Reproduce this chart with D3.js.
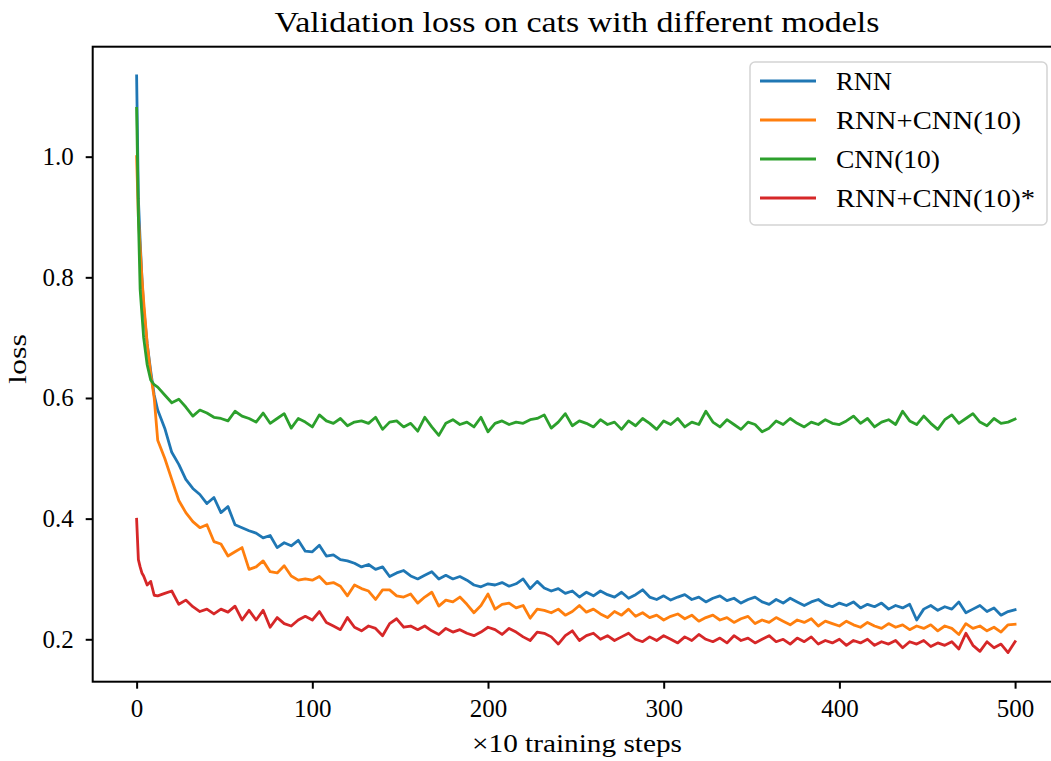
<!DOCTYPE html>
<html>
<head>
<meta charset="utf-8">
<script src="https://cdn.jsdelivr.net/npm/d3@7"></script>
<style>
  body { margin: 0; background: #fff; }
  svg text { font-family: "Liberation Serif", "DejaVu Serif", serif; fill: #000; }
</style>
</head>
<body>
<div id="chart"></div>
<script>
// training steps (x10) at which the loss was sampled
const steps = [0, 1, 2, 3, 4, 6, 8, 10].concat(d3.range(12, 501, 4));

const rnn = [
  1.134, 0.93, 0.86, 0.80, 0.75, 0.69, 0.645, 0.605,
  0.58, 0.55, 0.51, 0.49, 0.465, 0.45, 0.44, 0.425, 0.435, 0.41, 0.42, 0.39,
  0.385, 0.38, 0.376, 0.368, 0.372, 0.352, 0.36, 0.355, 0.364, 0.346,
  0.345, 0.356, 0.338, 0.34, 0.332, 0.33, 0.326, 0.32, 0.324, 0.316,
  0.32, 0.304, 0.31, 0.314, 0.305, 0.30, 0.306, 0.312, 0.30, 0.306,
  0.30, 0.304, 0.298, 0.29, 0.287, 0.292, 0.29, 0.294, 0.288, 0.292,
  0.30, 0.284, 0.296, 0.285, 0.28, 0.284, 0.276, 0.28, 0.27, 0.278,
  0.272, 0.28, 0.274, 0.27, 0.278, 0.268, 0.274, 0.282, 0.27, 0.266,
  0.272, 0.265, 0.27, 0.274, 0.266, 0.27, 0.262, 0.268, 0.272, 0.264,
  0.268, 0.26, 0.266, 0.27, 0.262, 0.258, 0.266, 0.26, 0.268, 0.262,
  0.256, 0.262, 0.266, 0.258, 0.254, 0.26, 0.256, 0.262, 0.252, 0.258,
  0.254, 0.26, 0.25, 0.256, 0.252, 0.258, 0.232, 0.25, 0.256, 0.248,
  0.254, 0.25, 0.262, 0.244, 0.25, 0.256, 0.246, 0.252, 0.24, 0.246,
  0.249
];

const rnnCnn = [
  1.0, 0.9, 0.85, 0.80, 0.76, 0.69, 0.64, 0.60,
  0.53, 0.50, 0.465, 0.43, 0.41, 0.395, 0.385, 0.39, 0.362, 0.358, 0.338, 0.345,
  0.352, 0.316, 0.32, 0.33, 0.312, 0.31, 0.322, 0.305, 0.298, 0.30,
  0.298, 0.304, 0.292, 0.294, 0.288, 0.272, 0.29, 0.284, 0.28, 0.266,
  0.282, 0.282, 0.272, 0.27, 0.275, 0.26, 0.27, 0.278, 0.255, 0.265,
  0.262, 0.27, 0.258, 0.244, 0.256, 0.275, 0.25, 0.258, 0.26, 0.252,
  0.256, 0.235, 0.25, 0.248, 0.244, 0.25, 0.24, 0.246, 0.256, 0.245,
  0.25, 0.242, 0.236, 0.246, 0.24, 0.25, 0.238, 0.244, 0.236, 0.24,
  0.232, 0.238, 0.242, 0.234, 0.24, 0.23, 0.236, 0.24, 0.232, 0.236,
  0.228, 0.234, 0.238, 0.226, 0.232, 0.228, 0.236, 0.23, 0.224, 0.232,
  0.228, 0.234, 0.222, 0.23, 0.226, 0.222, 0.23, 0.224, 0.22, 0.228,
  0.222, 0.218, 0.226, 0.22, 0.224, 0.216, 0.222, 0.218, 0.224, 0.214,
  0.222, 0.218, 0.208, 0.226, 0.218, 0.222, 0.214, 0.22, 0.212, 0.224,
  0.225
];

const cnn = [
  1.08, 0.90, 0.78, 0.74, 0.70, 0.655, 0.63, 0.622,
  0.618, 0.605, 0.592, 0.598, 0.585, 0.57, 0.58, 0.575, 0.568, 0.566, 0.562, 0.578,
  0.57, 0.566, 0.56, 0.575, 0.558, 0.566, 0.574, 0.55, 0.566, 0.56,
  0.552, 0.572, 0.562, 0.558, 0.566, 0.554, 0.56, 0.562, 0.558, 0.568,
  0.548, 0.56, 0.562, 0.552, 0.558, 0.545, 0.568, 0.552, 0.538, 0.558,
  0.564, 0.556, 0.56, 0.552, 0.568, 0.544, 0.558, 0.562, 0.556, 0.56,
  0.558, 0.564, 0.566, 0.572, 0.55, 0.56, 0.574, 0.554, 0.562, 0.558,
  0.552, 0.564, 0.556, 0.56, 0.548, 0.562, 0.554, 0.566, 0.558, 0.548,
  0.562, 0.556, 0.566, 0.552, 0.56, 0.556, 0.578, 0.56, 0.552, 0.564,
  0.556, 0.548, 0.56, 0.556, 0.544, 0.55, 0.562, 0.556, 0.566, 0.558,
  0.552, 0.56, 0.556, 0.564, 0.558, 0.556, 0.562, 0.57, 0.558, 0.566,
  0.552, 0.56, 0.564, 0.556, 0.578, 0.562, 0.556, 0.57, 0.558, 0.548,
  0.564, 0.572, 0.558, 0.566, 0.574, 0.56, 0.554, 0.566, 0.558, 0.56,
  0.565
];

const rnnCnnStar = [
  0.399, 0.332, 0.32, 0.31, 0.305, 0.29, 0.296, 0.273,
  0.272, 0.276, 0.28, 0.258, 0.265, 0.254, 0.246, 0.25, 0.242, 0.25, 0.245, 0.255,
  0.232, 0.248, 0.232, 0.248, 0.22, 0.236, 0.226, 0.222, 0.232, 0.238,
  0.232, 0.246, 0.228, 0.222, 0.216, 0.236, 0.22, 0.214, 0.222, 0.218,
  0.206, 0.226, 0.234, 0.22, 0.222, 0.216, 0.222, 0.214, 0.208, 0.218,
  0.212, 0.216, 0.21, 0.206, 0.212, 0.22, 0.216, 0.208, 0.218, 0.212,
  0.204, 0.198, 0.212, 0.21, 0.204, 0.192, 0.206, 0.214, 0.198, 0.206,
  0.21, 0.2, 0.206, 0.198, 0.204, 0.21, 0.2, 0.196, 0.204, 0.198,
  0.206, 0.2, 0.194, 0.204, 0.198, 0.208, 0.2, 0.196, 0.202, 0.194,
  0.206, 0.198, 0.202, 0.194, 0.2, 0.206, 0.196, 0.2, 0.192, 0.202,
  0.196, 0.204, 0.192, 0.198, 0.194, 0.2, 0.19, 0.198, 0.194, 0.2,
  0.19, 0.196, 0.192, 0.198, 0.186, 0.196, 0.192, 0.198, 0.188, 0.194,
  0.19, 0.196, 0.184, 0.21, 0.19, 0.18, 0.196, 0.186, 0.192, 0.178,
  0.196
];

const seriesNames = ["RNN", "RNN+CNN(10)", "CNN(10)", "RNN+CNN(10)*"];
const seriesValues = [rnn, rnnCnn, cnn, rnnCnnStar];
const palette = ["#1f77b4", "#ff7f0e", "#2ca02c", "#d62728"];
const xTicks = [0, 100, 200, 300, 400, 500];
const yTicks = [0.2, 0.4, 0.6, 0.8, 1.0];

/* size and margins */
const margin = {top: 46.7, left: 92.7},
  width = 966.3,
  height = 635;

const svg = d3.select("#chart").append("svg")
  .attr("width", 1051)
  .attr("height", 761);

const g = svg.append("g")
  .attr("transform", "translate(" + margin.left + "," + margin.top + ")");

const x = d3.scaleLinear().domain([-25, 525]).range([0, width]);
const y = d3.scaleLinear().domain([0.1297, 1.1823]).range([height, 0]);

/* lines */
const line = d3.line()
  .defined(d => d[1] != null)
  .x(d => x(d[0]))
  .y(d => y(d[1]));

seriesValues.forEach(function(vals, i) {
  g.append("path")
    .datum(steps.map((s, j) => [s, vals[j]]))
    .attr("d", line)
    .style("fill", "none")
    .style("stroke", palette[i])
    .style("stroke-width", 2.8)
    .style("stroke-linejoin", "round")
    .style("stroke-linecap", "square");
});

/* spines */
g.append("rect")
  .attr("width", width).attr("height", height)
  .style("fill", "none").style("stroke", "#000").style("stroke-width", 2);

/* axes */
const xAxis = g.append("g")
  .attr("transform", "translate(0," + height + ")")
  .call(d3.axisBottom(x).tickValues(xTicks).tickSize(7).tickSizeOuter(0).tickPadding(11));
const yAxis = g.append("g")
  .call(d3.axisLeft(y).tickValues(yTicks).tickFormat(d3.format(".1f")).tickSize(7).tickSizeOuter(0).tickPadding(12));

[xAxis, yAxis].forEach(function(a) {
  a.select(".domain").remove();
  a.selectAll(".tick line").style("stroke", "#000").style("stroke-width", 2);
  a.selectAll(".tick text")
    .style("font-family", "Liberation Serif, serif")
    .style("font-size", "25px")
    .style("fill", "#000");
});

/* title and labels (stretched a little: the original face is wider) */
svg.append("text")
  .attr("x", 577).attr("y", 32)
  .attr("text-anchor", "middle")
  .attr("textLength", 605).attr("lengthAdjust", "spacingAndGlyphs")
  .style("font-size", "30px")
  .text("Validation loss on cats with different models");

svg.append("text")
  .attr("x", 577).attr("y", 752)
  .attr("text-anchor", "middle")
  .attr("textLength", 210).attr("lengthAdjust", "spacingAndGlyphs")
  .style("font-size", "25px")
  .text("\u00d710 training steps");

svg.append("text")
  .attr("transform", "translate(26,359) rotate(-90)")
  .attr("text-anchor", "middle")
  .attr("textLength", 50).attr("lengthAdjust", "spacingAndGlyphs")
  .style("font-size", "25px")
  .text("loss");

/* legend */
const legendWidths = [56, 185, 104, 199];
const legend = svg.append("g");
legend.append("rect")
  .attr("x", 750).attr("y", 62)
  .attr("width", 297).attr("height", 163)
  .attr("rx", 5)
  .style("fill", "#fff").style("fill-opacity", 0.8)
  .style("stroke", "#d4d4d4").style("stroke-width", 1.5);

const rows = legend.selectAll("g.row").data(seriesNames).enter()
  .append("g").attr("class", "row")
  .attr("transform", (d, i) => "translate(0," + (81 + 39 * i) + ")");
rows.append("line")
  .attr("x1", 760).attr("x2", 816)
  .style("stroke", (d, i) => palette[i])
  .style("stroke-width", 2.8);
rows.append("text")
  .attr("x", 836).attr("dy", "0.35em")
  .attr("textLength", (d, i) => legendWidths[i]).attr("lengthAdjust", "spacingAndGlyphs")
  .style("font-size", "25px")
  .text(d => d);
</script>
</body>
</html>
